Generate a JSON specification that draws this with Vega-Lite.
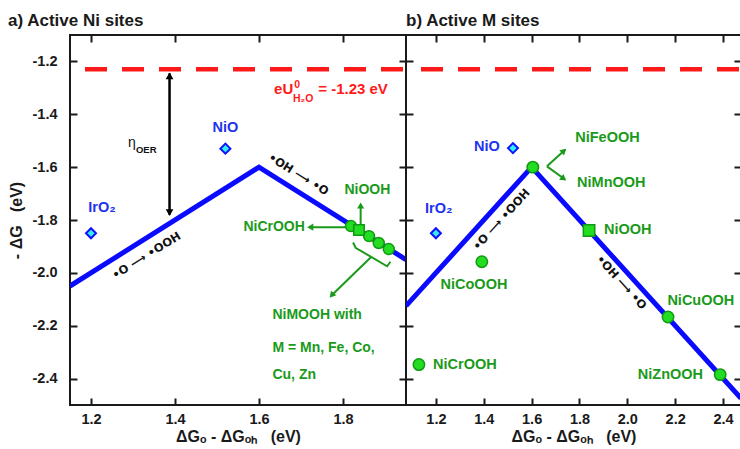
{
  "$schema": "https://vega.github.io/schema/vega-lite/v6.json",
  "padding": {"left": 7, "top": 11, "right": 0, "bottom": 0},
  "spacing": 0,
  "bounds": "flush",
  "config": {
    "font": "Liberation Sans",
    "view": {"stroke": "#1a1a1a", "strokeWidth": 2},
    "title": {"fontSize": 17, "fontWeight": "bold", "anchor": "start", "color": "#1a1a1a", "offset": 4},
    "axis": {"domain": false, "grid": false, "tickSize": -7, "tickWidth": 2, "tickColor": "#1a1a1a",
      "labelFontSize": 14.5, "labelFontWeight": "bold", "labelColor": "#1a1a1a", "labelOverlap": false, "labelFlush": false,
      "titleFontSize": 16, "titleFontWeight": "bold", "titleColor": "#1a1a1a"},
    "axisX": {"labelPadding": 14, "titlePadding": 3},
    "axisY": {"labelPadding": 20, "titlePadding": 8}
  },
  "datasets": {
    "redA": [{"x": 1.15, "y": -1.23}, {"x": 1.95, "y": -1.23}],
    "volA": [{"x": 1.15, "y": -2.05}, {"x": 1.6, "y": -1.6}, {"x": 1.95, "y": -1.95}],
    "etaA": [{"x": 1.387, "y": -1.245, "x2": 1.387, "y2": -1.78}],
    "garrA": [{"x": 1.842, "y": -1.82, "x2": 1.842, "y2": -1.745}, {"x": 1.81, "y": -1.827, "x2": 1.725, "y2": -1.827}, {"x": 1.867, "y": -1.94, "x2": 1.775, "y2": -2.082}],
    "brkA": [{"i": 1, "x": 1.824, "y": -1.885}, {"i": 2, "x": 1.83, "y": -1.905}, {"i": 3, "x": 1.905, "y": -1.975}, {"i": 4, "x": 1.913, "y": -1.958}],
    "hEtaUp": [{"x": 1.387, "y": -1.255}],
    "hEtaDown": [{"x": 1.387, "y": -1.772}],
    "hGUpA": [{"x": 1.842, "y": -1.745}],
    "hGLeftA": [{"x": 1.722, "y": -1.827}],
    "hGDiagA": [{"x": 1.773, "y": -2.085}],
    "diaA": [{"x": 1.2, "y": -1.85}, {"x": 1.52, "y": -1.53}],
    "circA": [{"x": 1.819, "y": -1.823}, {"x": 1.862, "y": -1.861}, {"x": 1.885, "y": -1.887}, {"x": 1.909, "y": -1.91}],
    "sqA": [{"x": 1.838, "y": -1.838}],
    "blueA": [{"x": 1.226, "y": -1.755, "t": "IrO₂"}, {"x": 1.52, "y": -1.45, "t": "NiO"}],
    "greenA": [{"x": 1.858, "y": -1.686, "t": "NiOOH"}, {"x": 1.636, "y": -1.827, "t": "NiCrOOH"}],
    "blockA": [{"x": 1.632, "y": -2.16, "t": "NiMOOH with"}, {"x": 1.632, "y": -2.285, "t": "M = Mn, Fe, Co,"}, {"x": 1.632, "y": -2.388, "t": "Cu, Zn"}],
    "rotA1": [{"x": 1.333, "y": -1.937, "t": "•O ⟶ •OOH"}],
    "rotA2": [{"x": 1.693, "y": -1.63, "t": "•OH ⟶ •O"}],
    "redMain": [{"x": 1.636, "y": -1.325, "t": "eU"}, {"x": 1.741, "y": -1.325, "t": "= -1.23 eV"}],
    "redSup": [{"x": 1.684, "y": -1.325, "t": "0"}],
    "redSub": [{"x": 1.681, "y": -1.325, "t": "H₂O"}],
    "etaTxt": [{"x": 1.288, "y": -1.507, "t": "η"}],
    "oerTxt": [{"x": 1.307, "y": -1.534, "t": "OER"}],
    "redB": [{"x": 1.075, "y": -1.23}, {"x": 2.475, "y": -1.23}],
    "volB": [{"x": 1.075, "y": -2.125}, {"x": 1.6, "y": -1.6}, {"x": 2.475, "y": -2.475}],
    "garrB": [{"x": 1.664, "y": -1.597, "x2": 1.74, "y2": -1.534}, {"x": 1.664, "y": -1.597, "x2": 1.74, "y2": -1.647}],
    "hB1": [{"x": 1.735, "y": -1.538}],
    "hB2": [{"x": 1.734, "y": -1.644}],
    "diaB": [{"x": 1.2, "y": -1.85}, {"x": 1.522, "y": -1.528}],
    "circB": [{"x": 1.605, "y": -1.6}, {"x": 1.392, "y": -1.958}, {"x": 2.17, "y": -2.167}, {"x": 2.388, "y": -2.385}, {"x": 1.129, "y": -2.347}],
    "sqB": [{"x": 1.84, "y": -1.84}],
    "blueB": [{"x": 1.212, "y": -1.76, "t": "IrO₂"}, {"x": 1.413, "y": -1.524, "t": "NiO"}],
    "greenB": [{"x": 1.917, "y": -1.49, "t": "NiFeOOH"}, {"x": 1.933, "y": -1.661, "t": "NiMnOOH"}, {"x": 2.002, "y": -1.838, "t": "NiOOH"}, {"x": 1.359, "y": -2.047, "t": "NiCoOOH"}, {"x": 2.307, "y": -2.107, "t": "NiCuOOH"}, {"x": 2.18, "y": -2.385, "t": "NiZnOOH"}, {"x": 1.321, "y": -2.35, "t": "NiCrOOH"}],
    "rotB1": [{"x": 1.476, "y": -1.8, "t": "•O ⟶ •OOH"}],
    "rotB2": [{"x": 1.973, "y": -2.038, "t": "•OH ⟶ •O"}]
  },
  "hconcat": [
    {
      "width": 336, "height": 370,
      "title": {"text": "a) Active Ni sites"},
      "resolve": {"axis": {"x": "independent", "y": "independent"}},
      "encoding": {
        "x": {"field": "x", "type": "quantitative", "scale": {"domain": [1.15, 1.95], "nice": false, "zero": false}, "axis": null},
        "y": {"field": "y", "type": "quantitative", "scale": {"domain": [-2.5, -1.1], "nice": false, "zero": false}, "axis": null}
      },
      "layer": [
        {"data": {"name": "redA"}, "mark": {"type": "line", "color": "#ff1a1a", "strokeWidth": 4.5, "strokeDash": [22, 15], "strokeDashOffset": 22}},
        {"data": {"name": "volA"}, "mark": {"type": "line", "color": "#0a0aff", "strokeWidth": 5, "clip": true},
          "encoding": {
            "x": {"field": "x", "type": "quantitative", "scale": {"domain": [1.15, 1.95], "nice": false, "zero": false},
              "axis": {"orient": "bottom", "values": [1.2, 1.4, 1.6, 1.8], "labelExpr": "format(datum.value, '.1f')", "title": "ΔGₒ - ΔGₒₕ\u00a0\u00a0\u00a0(eV)"}},
            "y": {"field": "y", "type": "quantitative", "scale": {"domain": [-2.5, -1.1], "nice": false, "zero": false},
              "axis": {"orient": "left", "values": [-2.4, -2.2, -2.0, -1.8, -1.6, -1.4, -1.2], "labelExpr": "'-' + format(-datum.value, '.1f')", "title": "-\u00a0ΔG\u00a0\u00a0\u00a0(eV)"}}
          }},
        {"data": {"name": "etaA"}, "mark": {"type": "rule", "color": "#000000", "strokeWidth": 2.5}, "encoding": {"x2": {"field": "x2"}, "y2": {"field": "y2"}}},
        {"data": {"name": "garrA"}, "mark": {"type": "rule", "color": "#1a9a1a", "strokeWidth": 2}, "encoding": {"x2": {"field": "x2"}, "y2": {"field": "y2"}}},
        {"data": {"name": "brkA"}, "mark": {"type": "line", "color": "#1a9a1a", "strokeWidth": 2}, "encoding": {"order": {"field": "i", "type": "quantitative"}}},
        {"data": {"name": "hEtaUp"}, "mark": {"type": "point", "shape": "triangle-up", "filled": true, "color": "#000000", "size": 60, "opacity": 1}},
        {"data": {"name": "hEtaDown"}, "mark": {"type": "point", "shape": "triangle-down", "filled": true, "color": "#000000", "size": 60, "opacity": 1}},
        {"data": {"name": "hGUpA"}, "mark": {"type": "point", "shape": "triangle-up", "filled": true, "color": "#1a9a1a", "size": 50, "opacity": 1}},
        {"data": {"name": "hGLeftA"}, "mark": {"type": "point", "shape": "triangle-left", "filled": true, "color": "#1a9a1a", "size": 50, "opacity": 1}},
        {"data": {"name": "hGDiagA"}, "mark": {"type": "point", "shape": "triangle-up", "filled": true, "color": "#1a9a1a", "size": 50, "opacity": 1, "angle": 221}},
        {"data": {"name": "diaA"}, "mark": {"type": "point", "shape": "diamond", "filled": true, "fill": "#33eeee", "stroke": "#1010ff", "strokeWidth": 2, "size": 100, "opacity": 1},
          "encoding": {
            "x": {"field": "x", "type": "quantitative", "scale": {"domain": [1.15, 1.95], "nice": false, "zero": false},
              "axis": {"orient": "top", "values": [1.2, 1.4, 1.6, 1.8], "labels": false, "title": null}},
            "y": {"field": "y", "type": "quantitative", "scale": {"domain": [-2.5, -1.1], "nice": false, "zero": false},
              "axis": {"orient": "right", "values": [-2.4, -2.2, -2.0, -1.8, -1.6, -1.4, -1.2], "labels": false, "title": null}}
          }},
        {"data": {"name": "circA"}, "mark": {"type": "point", "shape": "circle", "filled": true, "fill": "#22dd22", "stroke": "#119911", "strokeWidth": 1.5, "size": 120, "opacity": 1}},
        {"data": {"name": "sqA"}, "mark": {"type": "point", "shape": "square", "filled": true, "fill": "#22dd22", "stroke": "#119911", "strokeWidth": 1.5, "size": 110, "opacity": 1}},
        {"data": {"name": "blueA"}, "mark": {"type": "text", "color": "#2233ee", "fontSize": 14.5, "fontWeight": "bold", "align": "center", "baseline": "middle"}, "encoding": {"text": {"field": "t"}}},
        {"data": {"name": "greenA"}, "mark": {"type": "text", "color": "#1a9a1a", "fontSize": 14, "fontWeight": "bold", "align": "center", "baseline": "middle"}, "encoding": {"text": {"field": "t"}}},
        {"data": {"name": "blockA"}, "mark": {"type": "text", "color": "#1a9a1a", "fontSize": 14, "fontWeight": "bold", "align": "left", "baseline": "middle"}, "encoding": {"text": {"field": "t"}}},
        {"data": {"name": "rotA1"}, "mark": {"type": "text", "color": "#111111", "font": "DejaVu Sans", "fontSize": 11.5, "fontWeight": "bold", "align": "center", "baseline": "middle", "angle": -32}, "encoding": {"text": {"field": "t"}}},
        {"data": {"name": "rotA2"}, "mark": {"type": "text", "color": "#111111", "font": "DejaVu Sans", "fontSize": 11.5, "fontWeight": "bold", "align": "center", "baseline": "middle", "angle": 32}, "encoding": {"text": {"field": "t"}}},
        {"data": {"name": "redMain"}, "mark": {"type": "text", "color": "#ff1a1a", "fontSize": 15, "fontWeight": "bold", "align": "left", "baseline": "alphabetic"}, "encoding": {"text": {"field": "t"}}},
        {"data": {"name": "redSup"}, "mark": {"type": "text", "color": "#ff1a1a", "fontSize": 10.5, "fontWeight": "bold", "align": "left", "baseline": "alphabetic", "dy": -6}, "encoding": {"text": {"field": "t"}}},
        {"data": {"name": "redSub"}, "mark": {"type": "text", "color": "#ff1a1a", "fontSize": 10.5, "fontWeight": "bold", "align": "left", "baseline": "alphabetic", "dy": 8}, "encoding": {"text": {"field": "t"}}},
        {"data": {"name": "etaTxt"}, "mark": {"type": "text", "color": "#111111", "fontSize": 14, "align": "left", "baseline": "middle"}, "encoding": {"text": {"field": "t"}}},
        {"data": {"name": "oerTxt"}, "mark": {"type": "text", "color": "#111111", "fontSize": 9.5, "fontWeight": "bold", "align": "left", "baseline": "middle"}, "encoding": {"text": {"field": "t"}}}
      ]
    },
    {
      "width": 335, "height": 370,
      "title": {"text": "b) Active M sites", "dx": 9},
      "resolve": {"axis": {"x": "independent", "y": "independent"}},
      "encoding": {
        "x": {"field": "x", "type": "quantitative", "scale": {"domain": [1.075, 2.475], "nice": false, "zero": false}, "axis": null},
        "y": {"field": "y", "type": "quantitative", "scale": {"domain": [-2.5, -1.1], "nice": false, "zero": false}, "axis": null}
      },
      "layer": [
        {"data": {"name": "redB"}, "mark": {"type": "line", "color": "#ff1a1a", "strokeWidth": 4.5, "strokeDash": [22, 15], "strokeDashOffset": 22}},
        {"data": {"name": "volB"}, "mark": {"type": "line", "color": "#0a0aff", "strokeWidth": 5, "clip": true},
          "encoding": {
            "x": {"field": "x", "type": "quantitative", "scale": {"domain": [1.075, 2.475], "nice": false, "zero": false},
              "axis": {"orient": "bottom", "values": [1.2, 1.4, 1.6, 1.8, 2.0, 2.2, 2.4], "labelExpr": "format(datum.value, '.1f')", "title": "ΔGₒ - ΔGₒₕ\u00a0\u00a0\u00a0(eV)"}},
            "y": {"field": "y", "type": "quantitative", "scale": {"domain": [-2.5, -1.1], "nice": false, "zero": false},
              "axis": {"orient": "left", "values": [-2.4, -2.2, -2.0, -1.8, -1.6, -1.4, -1.2], "labels": false, "title": null}}
          }},
        {"data": {"name": "garrB"}, "mark": {"type": "rule", "color": "#1a9a1a", "strokeWidth": 2}, "encoding": {"x2": {"field": "x2"}, "y2": {"field": "y2"}}},
        {"data": {"name": "hB1"}, "mark": {"type": "point", "shape": "triangle-up", "filled": true, "color": "#1a9a1a", "size": 50, "opacity": 1, "angle": 48}},
        {"data": {"name": "hB2"}, "mark": {"type": "point", "shape": "triangle-up", "filled": true, "color": "#1a9a1a", "size": 50, "opacity": 1, "angle": 127}},
        {"data": {"name": "diaB"}, "mark": {"type": "point", "shape": "diamond", "filled": true, "fill": "#33eeee", "stroke": "#1010ff", "strokeWidth": 2, "size": 100, "opacity": 1},
          "encoding": {
            "x": {"field": "x", "type": "quantitative", "scale": {"domain": [1.075, 2.475], "nice": false, "zero": false},
              "axis": {"orient": "top", "values": [1.2, 1.4, 1.6, 1.8, 2.0, 2.2, 2.4], "labels": false, "title": null}},
            "y": {"field": "y", "type": "quantitative", "scale": {"domain": [-2.5, -1.1], "nice": false, "zero": false},
              "axis": {"orient": "right", "values": [-2.4, -2.2, -2.0, -1.8, -1.6, -1.4, -1.2], "labels": false, "title": null}}
          }},
        {"data": {"name": "circB"}, "mark": {"type": "point", "shape": "circle", "filled": true, "fill": "#22dd22", "stroke": "#119911", "strokeWidth": 1.5, "size": 130, "opacity": 1}},
        {"data": {"name": "sqB"}, "mark": {"type": "point", "shape": "square", "filled": true, "fill": "#22dd22", "stroke": "#119911", "strokeWidth": 1.5, "size": 130, "opacity": 1}},
        {"data": {"name": "blueB"}, "mark": {"type": "text", "color": "#2233ee", "fontSize": 14.5, "fontWeight": "bold", "align": "center", "baseline": "middle"}, "encoding": {"text": {"field": "t"}}},
        {"data": {"name": "greenB"}, "mark": {"type": "text", "color": "#1a9a1a", "fontSize": 14.5, "fontWeight": "bold", "align": "center", "baseline": "middle"}, "encoding": {"text": {"field": "t"}}},
        {"data": {"name": "rotB1"}, "mark": {"type": "text", "color": "#111111", "font": "DejaVu Sans", "fontSize": 11.5, "fontWeight": "bold", "align": "center", "baseline": "middle", "angle": -47.8}, "encoding": {"text": {"field": "t"}}},
        {"data": {"name": "rotB2"}, "mark": {"type": "text", "color": "#111111", "font": "DejaVu Sans", "fontSize": 11.5, "fontWeight": "bold", "align": "center", "baseline": "middle", "angle": 47.8}, "encoding": {"text": {"field": "t"}}}
      ]
    }
  ]
}
